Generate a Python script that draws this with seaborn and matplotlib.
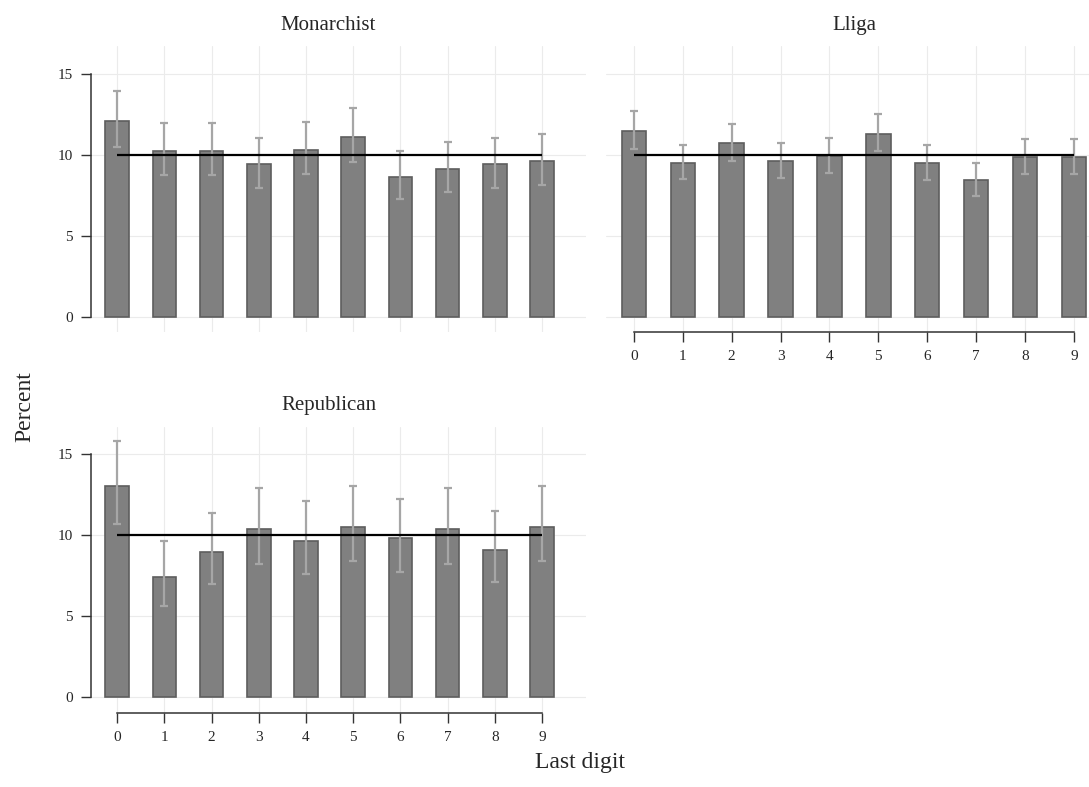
import matplotlib
matplotlib.use("Agg")
import matplotlib.pyplot as plt
import seaborn as sns
import pandas as pd

# last digit shares (percent) with 95% CI
digits = list(range(10))

monarchist = [12.05, 10.22, 10.22, 9.40, 10.28, 11.09, 8.59, 9.11, 9.40, 9.60]
monarchist_lo = [10.45, 8.72, 8.72, 7.93, 8.78, 9.52, 7.23, 7.67, 7.95, 8.12]
monarchist_hi = [13.90, 11.97, 11.97, 11.04, 12.03, 12.86, 10.24, 10.76, 11.04, 11.29]

lliga = [11.46, 9.48, 10.69, 9.60, 9.89, 11.29, 9.46, 8.43, 9.83, 9.83]
lliga_lo = [10.36, 8.49, 9.62, 8.57, 8.84, 10.20, 8.45, 7.46, 8.80, 8.80]
lliga_hi = [12.67, 10.61, 11.88, 10.74, 11.04, 12.53, 10.57, 9.50, 10.96, 10.96]

republican = [13.04, 7.44, 8.96, 10.41, 9.66, 10.51, 9.83, 10.41, 9.11, 10.51]
republican_lo = [10.67, 5.63, 6.99, 8.24, 7.62, 8.39, 7.75, 8.24, 7.11, 8.39]
republican_hi = [15.80, 9.64, 11.35, 12.90, 12.12, 13.02, 12.26, 12.90, 11.52, 13.02]

expected = 10

sns.set_style("whitegrid", {"grid.color": "#ebebeb", "axes.edgecolor": "#333333"})
plt.rcParams["font.family"] = ["Liberation Serif", "DejaVu Serif"]

fig = plt.figure(figsize=(10.89, 7.87), dpi=100)

# panel boxes in figure fractions
panels = [
    ("Monarchist", monarchist, monarchist_lo, monarchist_hi, [0.0833, 0.5781, 0.4548, 0.3635], (-0.56, 9.93), 0.48, False, True),
    ("Lliga", lliga, lliga_lo, lliga_hi, [0.5565, 0.5781, 0.4435, 0.3635], (-0.57, 9.31), 0.515, True, False),
    ("Republican", republican, republican_lo, republican_hi, [0.0833, 0.0944, 0.4548, 0.3634], (-0.56, 9.93), 0.48, True, True),
]

for name, vals, lo, hi, box, xlim, tx, show_x, show_y in panels:
    ax = fig.add_axes(box)
    df = pd.DataFrame({"digit": digits, "pct": vals})
    sns.barplot(data=df, x="digit", y="pct", ax=ax, errorbar=None,
                color="#808080", edgecolor="#5e5e5e", linewidth=1.2,
                width=0.5, saturation=1)
    yerr = [[v - l for v, l in zip(vals, lo)], [h - v for v, h in zip(vals, hi)]]
    ax.errorbar(digits, vals, yerr=yerr, fmt="none", ecolor="#a6a6a6",
                elinewidth=1.6, capsize=2.6, capthick=1.6, zorder=3)
    ax.hlines(expected, 0, 9, color="black", linewidth=1.6, zorder=4)

    ax.set_xlim(*xlim)
    ax.set_ylim(-0.95, 16.7)
    ax.xaxis.grid(True)
    ax.yaxis.grid(True)
    ax.set_axisbelow(True)
    ax.set_xlabel("")
    ax.set_ylabel("")
    ax.set_xticks(digits)
    ax.set_yticks([0, 5, 10, 15])
    ax.text(tx, 1.04, name, transform=ax.transAxes, ha="center", va="bottom", fontsize=15)

    for s in ["top", "right"]:
        ax.spines[s].set_visible(False)
    ax.tick_params(axis="both", length=7, width=1, color="#333333", labelsize=11,
                   bottom=True, left=True, pad=6)

    if show_x:
        ax.spines["bottom"].set_bounds(0, 9)
        ax.spines["bottom"].set_linewidth(1.1)
        ax.set_xticklabels([str(d) for d in digits])
    else:
        ax.spines["bottom"].set_visible(False)
        ax.tick_params(axis="x", bottom=False, labelbottom=False)

    if show_y:
        ax.spines["left"].set_bounds(0, 15)
        ax.spines["left"].set_linewidth(1.1)
    else:
        ax.spines["left"].set_visible(False)
        ax.tick_params(axis="y", left=False, labelleft=False)

fig.text(0.023, 0.483, "Percent", rotation=90, ha="center", va="center", fontsize=17)
fig.text(0.533, 0.018, "Last digit", ha="center", va="bottom", fontsize=17)

fig.savefig("out.png", dpi=100)
